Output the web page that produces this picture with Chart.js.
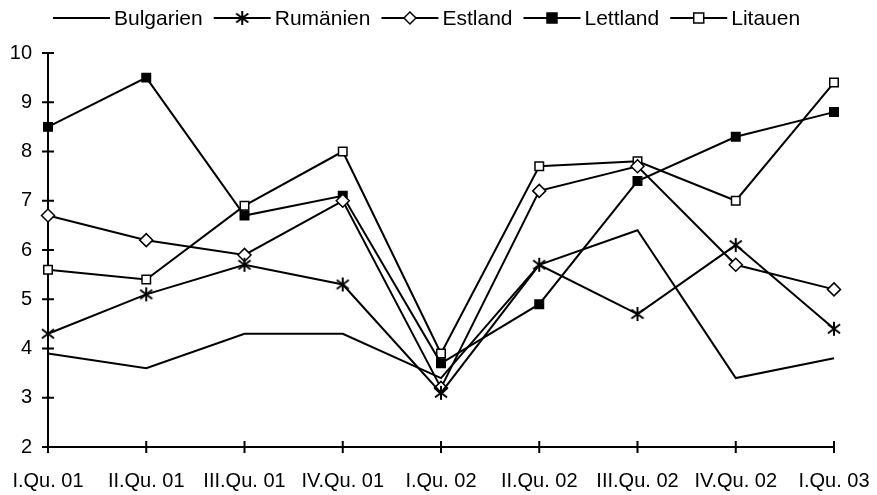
<!DOCTYPE html>
<html>
<head>
<meta charset="utf-8">
<script src="https://cdn.jsdelivr.net/npm/chart.js@4.4.1/dist/chart.umd.min.js"></script>
<style>
  html, body { margin: 0; padding: 0; background: #fff; }
  #wrap { width: 877px; height: 495px; }
</style>
</head>
<body>
<div id="wrap"><canvas id="c" width="877" height="495"></canvas></div>
<script>
// Quarterly values per country
const categories = ['I.Qu. 01', 'II.Qu. 01', 'III.Qu. 01', 'IV.Qu. 01', 'I.Qu. 02', 'II.Qu. 02', 'III.Qu. 02', 'IV.Qu. 02', 'I.Qu. 03'];
const bulgarien = [3.9, 3.6, 4.3, 4.3, 3.4, 5.7, 6.4, 3.4, 3.8];
const rumaenien = [4.3, 5.1, 5.7, 5.3, 3.1, 5.7, 4.7, 6.1, 4.4];
const estland   = [6.7, 6.2, 5.9, 7.0, 3.2, 7.2, 7.7, 5.7, 5.2];
const lettland  = [8.5, 9.5, 6.7, 7.1, 3.7, 4.9, 7.4, 8.3, 8.8];
const litauen   = [5.6, 5.4, 6.9, 8.0, 3.9, 7.7, 7.8, 7.0, 9.4];
const seriesNames = ['Bulgarien', 'Rumänien', 'Estland', 'Lettland', 'Litauen'];
const yMin = 2, yMax = 10, yStep = 1;

const FONT = '"Liberation Sans", Arial, sans-serif';

// six-armed asterisk marker
function makeAsterisk(size) {
  const cv = document.createElement('canvas');
  cv.width = size; cv.height = size;
  const g = cv.getContext('2d');
  const c = size / 2, r = size / 2 - 1;
  g.strokeStyle = '#000';
  g.lineWidth = 2;
  g.beginPath();
  g.moveTo(c, c - r); g.lineTo(c, c + r);
  const dx = r * Math.cos(Math.PI / 6), dy = r * Math.sin(Math.PI / 6) + 1;
  g.moveTo(c - dx, c - dy); g.lineTo(c + dx, c + dy);
  g.moveTo(c - dx, c + dy); g.lineTo(c + dx, c - dy);
  g.stroke();
  return cv;
}
const asterisk = makeAsterisk(16);

function ds(label, data, style) {
  return Object.assign({
    label, data,
    borderColor: '#000',
    borderWidth: 2,
    backgroundColor: '#000',
    pointBorderColor: '#000',
    pointBorderWidth: 1.5,
    tension: 0,
    clip: false
  }, style);
}

const datasets = [
  ds(seriesNames[0], bulgarien, { pointRadius: 0, pointHoverRadius: 0 }),
  ds(seriesNames[1], rumaenien, { pointStyle: asterisk, pointRadius: 8 }),
  ds(seriesNames[2], estland,   { pointStyle: 'rectRot', pointRadius: 6.5, pointBackgroundColor: '#fff' }),
  ds(seriesNames[3], lettland,  { pointStyle: 'rect', pointRadius: 6, pointBackgroundColor: '#000' }),
  ds(seriesNames[4], litauen,   { pointStyle: 'rect', pointRadius: 6, pointBackgroundColor: '#fff' })
];

// legend row: line with marker, followed by the series name
const legendRow = {
  id: 'legendRow',
  afterDraw(chart) {
    const ctx = chart.ctx;
    ctx.save();
    ctx.font = '21px ' + FONT;
    ctx.textBaseline = 'middle';
    ctx.fillStyle = '#000';
    let x = 53;
    const y = 18;
    chart.data.datasets.forEach(d => {
      const len = 57;
      ctx.strokeStyle = '#000';
      ctx.lineWidth = 2;
      ctx.beginPath();
      ctx.moveTo(x, y); ctx.lineTo(x + len, y);
      ctx.stroke();
      const mx = x + len / 2;
      ctx.lineWidth = 1.5;
      if (d.pointStyle === asterisk) {
        ctx.drawImage(asterisk, mx - 8, y - 8);
      } else if (d.pointStyle === 'rectRot') {
        ctx.beginPath();
        ctx.moveTo(mx, y - 6); ctx.lineTo(mx + 6, y); ctx.lineTo(mx, y + 6); ctx.lineTo(mx - 6, y);
        ctx.closePath();
        ctx.fillStyle = d.pointBackgroundColor; ctx.fill(); ctx.stroke();
      } else if (d.pointStyle === 'rect') {
        ctx.fillStyle = d.pointBackgroundColor;
        ctx.fillRect(mx - 5, y - 5, 10, 10);
        ctx.strokeRect(mx - 5, y - 5, 10, 10);
      }
      ctx.fillStyle = '#000';
      ctx.fillText(d.label, x + len + 4, y + 1);
      x += len + 4 + ctx.measureText(d.label).width + 11;
    });
    ctx.restore();
  }
};

// small tick marks that cross both axes
const crossTicks = {
  id: 'crossTicks',
  afterDatasetsDraw(chart) {
    const ctx = chart.ctx;
    const xs = chart.scales.x, ys = chart.scales.y;
    const area = chart.chartArea;
    ctx.save();
    ctx.strokeStyle = '#000';
    ctx.lineWidth = 2;
    ctx.beginPath();
    ys.ticks.forEach(t => {
      const py = ys.getPixelForValue(t.value);
      ctx.moveTo(area.left - 6, py); ctx.lineTo(area.left + 6, py);
    });
    xs.ticks.forEach((t, i) => {
      const px = xs.getPixelForValue(i);
      ctx.moveTo(px, area.bottom - 6); ctx.lineTo(px, area.bottom + 6);
    });
    ctx.stroke();
    ctx.restore();
  }
};

new Chart(document.getElementById('c'), {
  type: 'line',
  data: { labels: categories, datasets },
  options: {
    responsive: false,
    animation: false,
    events: [],
    layout: { autoPadding: false, padding: { top: 53, right: 43, left: 0, bottom: 0 } },
    plugins: { legend: { display: false }, tooltip: { enabled: false } },
    scales: {
      x: {
        offset: false,
        grid: { display: false, drawTicks: false },
        border: { display: true, color: '#000', width: 2 },
        ticks: {
          color: '#000', font: { family: FONT, size: 20 },
          padding: 22, maxRotation: 0, autoSkip: false
        },
        afterFit(scale) {
          scale.height = 48;
          scale.paddingLeft = 0;
          scale.paddingRight = 0;
        }
      },
      y: {
        min: yMin, max: yMax,
        grid: { display: false, drawTicks: false },
        border: { display: true, color: '#000', width: 2 },
        ticks: {
          stepSize: yStep, color: '#000', font: { family: FONT, size: 20 },
          padding: 16
        },
        afterFit(scale) { scale.width = 48; }
      }
    }
  },
  plugins: [legendRow, crossTicks]
});
</script>
</body>
</html>
